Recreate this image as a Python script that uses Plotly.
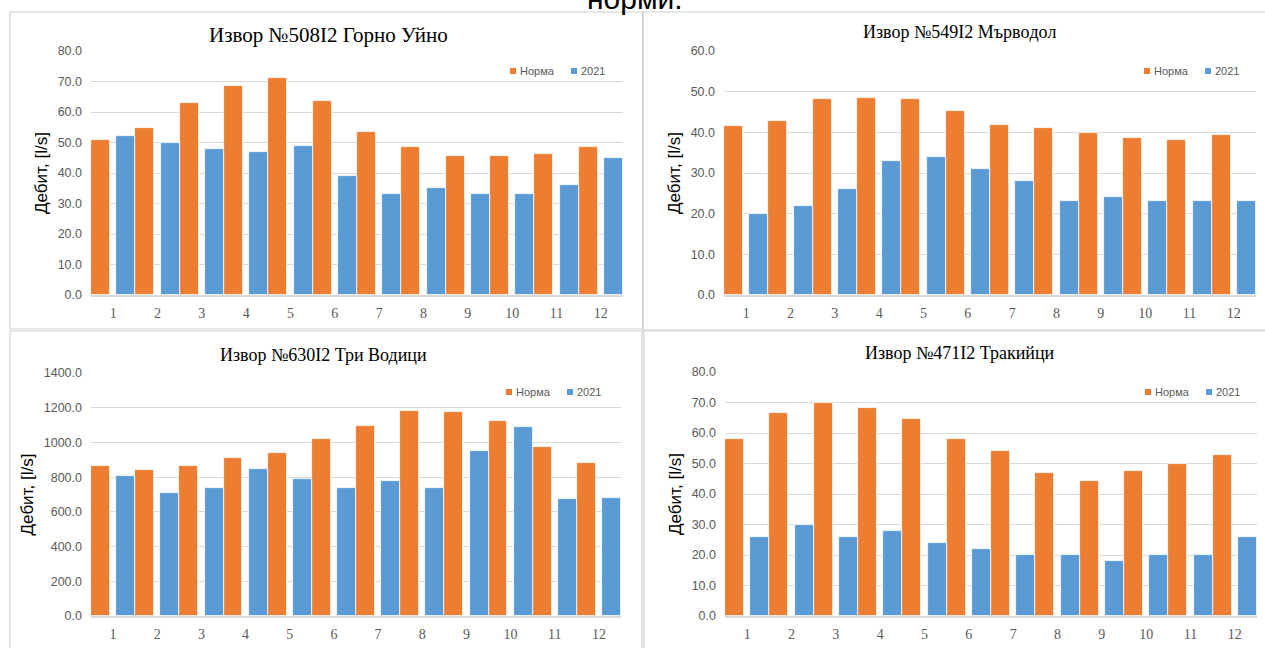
import plotly.graph_objects as go

W, H = 1265, 648

# ---- data -------------------------------------------------------------
months = list(range(1, 13))
series_names = ["Норма", "2021"]

titles = [
    "Извор №508I2 Горно Уйно",
    "Извор №549I2 Мървoдол",
    "Извор №630I2 Три Водици",
    "Извор №471I2 Тракийци",
]

norm_508 = [50.9, 54.8, 62.8, 68.5, 71.2, 63.6, 53.3, 48.6, 45.6, 45.6, 46.3, 48.6]
flow_508 = [52.0, 50.0, 48.0, 47.0, 49.0, 39.0, 33.0, 35.0, 33.0, 33.0, 36.0, 45.0]

norm_549 = [41.5, 42.7, 48.2, 48.4, 48.1, 45.2, 41.7, 41.0, 39.8, 38.6, 38.2, 39.3]
flow_549 = [20.0, 22.0, 26.0, 33.0, 34.0, 31.0, 28.0, 23.0, 24.0, 23.0, 23.0, 23.0]

norm_630 = [865, 840, 865, 911, 940, 1020, 1097, 1181, 1178, 1124, 976, 882]
flow_630 = [809, 710, 738, 846, 788, 735, 777, 738, 953, 1087, 673, 681]

norm_471 = [58.0, 66.4, 70.0, 68.3, 64.5, 58.0, 54.2, 46.8, 44.2, 47.5, 49.9, 52.8]
flow_471 = [26.0, 30.0, 26.0, 28.0, 24.0, 22.0, 20.0, 20.0, 18.0, 20.0, 20.0, 26.0]

y_max = [80, 60, 1400, 80]
y_step = [10, 10, 200, 10]

values = [
    (norm_508, flow_508),
    (norm_549, flow_549),
    (norm_630, flow_630),
    (norm_471, flow_471),
]

# ---- styling / geometry (pixels) -------------------------------------
ORANGE = "#ED7D31"
BLUE = "#5B9BD5"
GRID = "#D9D9D9"
TICK = "#595959"

# plot area of each panel: left, right, top, bottom
areas = [
    (91, 623, 51, 295),
    (724, 1256, 51, 295),
    (91, 621, 373, 616),
    (725, 1257, 372, 616),
]
title_pos = [(328, 35, 21), (960, 32, 18), (323, 355, 18), (960, 353, 18)]
legend_pos = [(510, 71), (1144, 71), (506, 392), (1145, 392)]
frames = [
    (10, 643, 12, 329),
    (643, 1267, 12, 330),
    (10, 642, 331, 650),
    (644, 1267, 331, 650),
]


def fx(p):
    return p / W


def fy(p):
    return 1 - p / H


fig = go.Figure()
annotations = []
shapes = []

for i, (norm, flow) in enumerate(values):
    n = "" if i == 0 else str(i + 1)
    xa, ya = "x" + n, "y" + n
    for name, vals, color, off in [
        (series_names[0], norm, ORANGE, -0.5),
        (series_names[1], flow, BLUE, 0.07),
    ]:
        fig.add_trace(
            go.Bar(
                x=months,
                y=vals,
                name=name,
                xaxis=xa,
                yaxis=ya,
                offset=off,
                width=0.43,
                marker=dict(color=color, line=dict(color="white", width=0.8)),
                showlegend=False,
            )
        )

    l, r, t, b = areas[i]
    fig.update_layout(
        {
            "xaxis" + n: dict(
                domain=[fx(l), fx(r)],
                anchor=ya,
                range=[0.5, 12.5],
                tickvals=months,
                ticktext=[str(m) for m in months],
                automargin=False,
                showgrid=False,
                zeroline=False,
                showline=True,
                linecolor=GRID,
                linewidth=1.5,
                ticks="",
                ticklabelstandoff=4,
                tickfont=dict(family="Liberation Serif", size=14, color=TICK),
                fixedrange=True,
            ),
            "yaxis" + n: dict(
                domain=[fy(b), fy(t)],
                anchor=xa,
                range=[0, y_max[i]],
                dtick=y_step[i],
                tick0=0,
                tickformat=".1f",
                automargin=False,
                showgrid=True,
                gridcolor=GRID,
                gridwidth=1,
                zeroline=False,
                showline=False,
                ticks="",
                ticklabelstandoff=8,
                tickfont=dict(family="Liberation Sans", size=12.5, color=TICK),
                title=dict(
                    text="Дебит, [l/s]",
                    font=dict(family="Liberation Sans", size=17, color="black"),
                    standoff=5,
                ),
                fixedrange=True,
            ),
        }
    )

    # panel title
    tx, ty, ts = title_pos[i]
    annotations.append(
        dict(
            text=titles[i], x=fx(tx), y=fy(ty), xref="paper", yref="paper",
            xanchor="center", yanchor="middle", showarrow=False,
            font=dict(family="Liberation Serif", size=ts, color="black"),
        )
    )

    # legend: small swatch + label for each series
    lx, ly = legend_pos[i]
    swatch_x = [lx, lx + 61]
    for sx, name, color in zip(swatch_x, series_names, [ORANGE, BLUE]):
        shapes.append(
            dict(
                type="rect", xref="paper", yref="paper",
                x0=fx(sx), x1=fx(sx + 6), y0=fy(ly + 3), y1=fy(ly - 3),
                fillcolor=color, line=dict(width=0),
            )
        )
        annotations.append(
            dict(
                text=name, x=fx(sx + 8), y=fy(ly), xref="paper", yref="paper",
                xanchor="left", yanchor="middle", showarrow=False,
                font=dict(family="Liberation Sans", size=11, color=TICK),
            )
        )

    # panel frame
    fl, fr, ft, fb = frames[i]
    shapes.append(
        dict(
            type="rect", xref="paper", yref="paper",
            x0=fx(fl), x1=fx(fr), y0=fy(fb), y1=fy(ft),
            line=dict(color="#D0D0D0", width=1.2), fillcolor="rgba(0,0,0,0)",
            layer="below",
        )
    )

# caption line running above the panels
annotations.append(
    dict(
        text="норми.", x=fx(635), y=fy(17), xref="paper", yref="paper",
        xanchor="center", yanchor="bottom", showarrow=False,
        font=dict(family="Liberation Sans", size=30, color="black"),
    )
)

fig.update_layout(
    width=W,
    height=H,
    margin=dict(l=0, r=0, t=0, b=0, autoexpand=False),
    paper_bgcolor="white",
    plot_bgcolor="white",
    bargap=0,
    annotations=annotations,
    shapes=shapes,
    showlegend=False,
)

fig.write_html("out.html")
